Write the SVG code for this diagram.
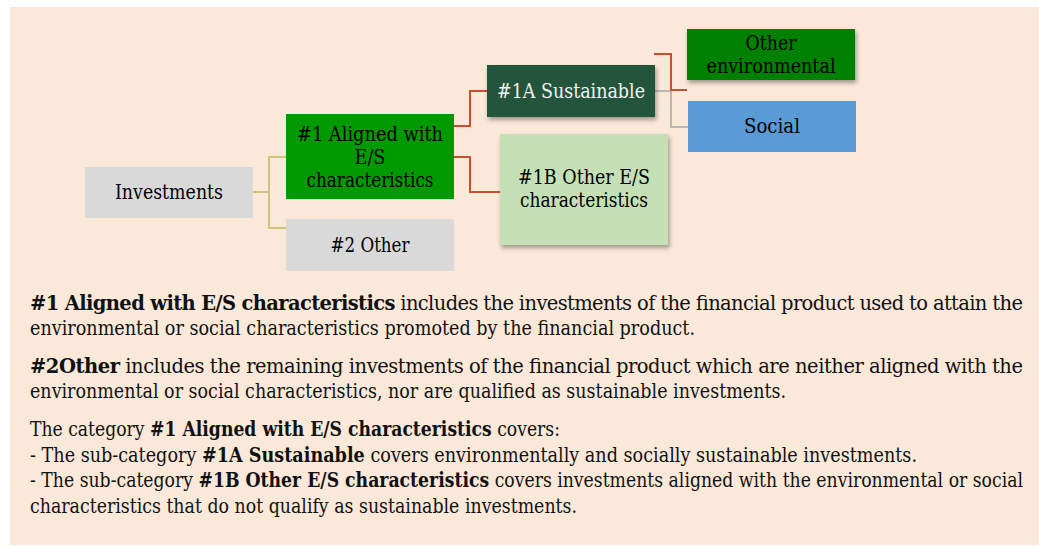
<svg xmlns="http://www.w3.org/2000/svg" width="1039" height="548" viewBox="0 0 1039 548">
<defs>
<filter id="sh" x="-10%" y="-10%" width="130%" height="140%">
<feDropShadow dx="1.5" dy="3" stdDeviation="2" flood-color="#000" flood-opacity="0.35"/>
</filter>
<style>
.n{font-size:20px;fill:#000;text-anchor:middle}
.w{fill:#f2f2f2}
.b{font-size:19.5px;fill:#111}
.bd{font-weight:bold}
.ck{fill:none;stroke:#d2c27c;stroke-width:2}
.cr{fill:none;stroke:#c9502e;stroke-width:2}
.cg{fill:none;stroke:#a6a6a6;stroke-width:1.5}
</style>
</defs>
<rect x="10" y="7" width="1029" height="538" fill="#fae8d8"/>
<g id="connectors">
<polyline class="ck" points="253,192 269,192"/>
<polyline class="ck" points="286,157 269,157 269,228 286,228"/>
<polyline class="cr" points="454,126 470,126 470,91 487,91"/>
<polyline class="cr" points="454,157 470,157 470,192 500,192"/>
<polyline class="cg" points="655,91 671,91 671,127 688,127"/>
<polyline class="cr" points="654,54 671,54 671,90 687,90"/>
</g>
<g font-family="DejaVu Serif, Liberation Serif, serif">
<g id="investments">
<rect x="85" y="167" width="168" height="51" fill="#d9d9d9"/>
<text class="n" x="169" y="199" textLength="108" lengthAdjust="spacingAndGlyphs">Investments</text>
</g>
<g id="aligned">
<rect x="286" y="114" width="168" height="85" fill="#009900"/>
<text class="n" x="370" y="141" textLength="146" lengthAdjust="spacingAndGlyphs">#1 Aligned with</text>
<text class="n" x="370" y="164" textLength="31" lengthAdjust="spacingAndGlyphs">E/S</text>
<text class="n" x="370" y="187" textLength="127" lengthAdjust="spacingAndGlyphs">characteristics</text>
</g>
<g id="other">
<rect x="286" y="219" width="168" height="52" fill="#d9d9d9"/>
<text class="n" x="370" y="252" textLength="79" lengthAdjust="spacingAndGlyphs">#2 Other</text>
</g>
<g id="sustainable">
<rect x="487" y="65" width="168" height="52" fill="#24553a" filter="url(#sh)"/>
<text class="n w" x="571" y="98" textLength="148" lengthAdjust="spacingAndGlyphs">#1A Sustainable</text>
</g>
<g id="other-es">
<rect x="500" y="134" width="168" height="111" fill="#c5e0b4" filter="url(#sh)"/>
<text class="n" x="584" y="184" textLength="132" lengthAdjust="spacingAndGlyphs">#1B Other E/S</text>
<text class="n" x="584" y="207" textLength="128" lengthAdjust="spacingAndGlyphs">characteristics</text>
</g>
<g id="other-env">
<rect x="687" y="29" width="168" height="51" fill="#008000" filter="url(#sh)"/>
<text class="n" x="771" y="50" textLength="51" lengthAdjust="spacingAndGlyphs">Other</text>
<text class="n" x="771" y="73" textLength="129" lengthAdjust="spacingAndGlyphs">environmental</text>
</g>
<g id="social">
<rect x="688" y="101" width="168" height="51" fill="#5b9bd5"/>
<text class="n" x="772" y="133" textLength="56" lengthAdjust="spacingAndGlyphs">Social</text>
</g>
<g id="legend">
<text class="b" x="30" y="310" textLength="993" lengthAdjust="spacing"><tspan class="bd">#1 Aligned with E/S characteristics</tspan> includes the investments of the financial product used to attain the</text>
<text class="b" x="30" y="335" textLength="665" lengthAdjust="spacingAndGlyphs">environmental or social characteristics promoted by the financial product.</text>
<text class="b" x="30" y="373" textLength="993" lengthAdjust="spacing"><tspan class="bd">#2Other</tspan> includes the remaining investments of the financial product which are neither aligned with the</text>
<text class="b" x="30" y="398" textLength="756" lengthAdjust="spacingAndGlyphs">environmental or social characteristics, nor are qualified as sustainable investments.</text>
<text class="b" x="30" y="436" textLength="530" lengthAdjust="spacingAndGlyphs">The category <tspan class="bd">#1 Aligned with E/S characteristics</tspan> covers:</text>
<text class="b" x="30" y="462" textLength="887" lengthAdjust="spacingAndGlyphs">- The sub-category <tspan class="bd">#1A Sustainable</tspan> covers environmentally and socially sustainable investments.</text>
<text class="b" x="30" y="487" textLength="993" lengthAdjust="spacingAndGlyphs">- The sub-category <tspan class="bd">#1B Other E/S characteristics</tspan> covers investments aligned with the environmental or social</text>
<text class="b" x="30" y="513" textLength="547" lengthAdjust="spacingAndGlyphs">characteristics that do not qualify as sustainable investments.</text>
</g>
</g>
</svg>
